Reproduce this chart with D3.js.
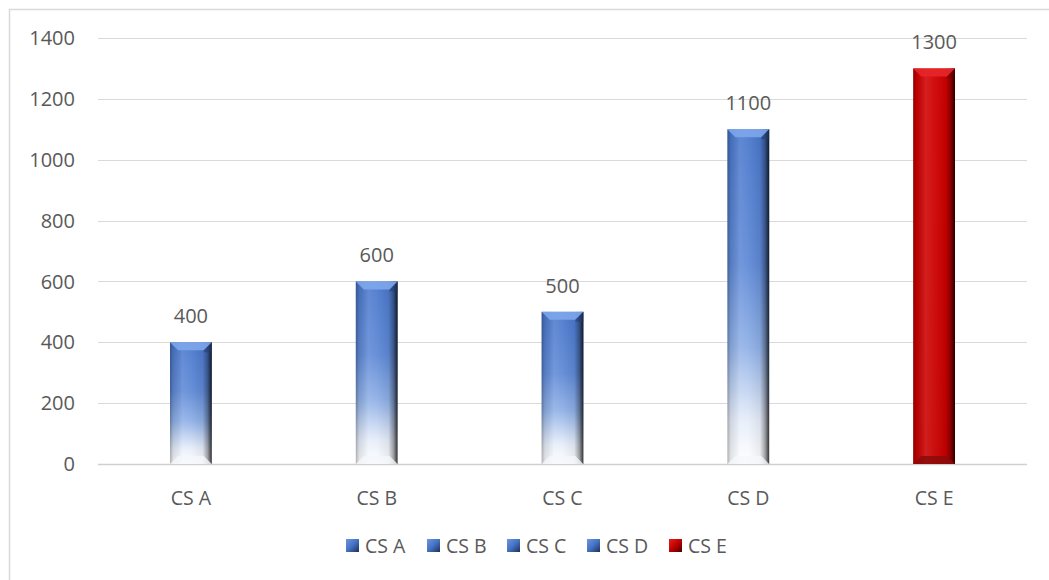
<!DOCTYPE html>
<html><head><meta charset="utf-8">
<script src="https://cdn.jsdelivr.net/npm/d3@7"></script>
<style>body{margin:0;background:#fff}svg{display:block}text{font-family:"Open Sans","Noto Sans",sans-serif;fill:#595959}</style>
</head><body><svg id="c" width="1049" height="580"></svg>
<script>
const categories = ["CS A","CS B","CS C","CS D","CS E"];
const values = [400,600,500,1100,1300];
const yTicks = [0,200,400,600,800,1000,1200,1400];
const seriesColors = ["blue","blue","blue","blue","red"];

const svg = d3.select("#c");
const W = 1049, H = 580;
const m = {left:98, right:22, top:38, bottom:116};
svg.append("path").attr("d",`M9.5,${H} V9.5 H${W}`).attr("fill","none").attr("stroke","#d9d9d9").attr("stroke-width",1.5);

const x = d3.scaleBand().domain(categories).range([m.left, W-m.right]).paddingInner(0.775).paddingOuter(0.3875);
const y = d3.scaleLinear().domain([0,1400]).range([H-m.bottom, m.top]);

const defs = svg.append("defs");
const gb = defs.append("linearGradient").attr("id","vblue").attr("x1",0).attr("y1",0).attr("x2",0).attr("y2",1);
[[0,"#4a78cc"],[0.4,"#5f89d6"],[0.65,"#8fb0e6"],[0.87,"#e6edf9"],[1,"#ffffff"]].forEach(s=>gb.append("stop").attr("offset",s[0]).attr("stop-color",s[1]));
const gr = defs.append("linearGradient").attr("id","vred").attr("x1",0).attr("y1",0).attr("x2",0).attr("y2",1);
[[0,"#d00000"],[1,"#c80000"]].forEach(s=>gr.append("stop").attr("offset",s[0]).attr("stop-color",s[1]));
const gh = defs.append("linearGradient").attr("id","hshade").attr("x1",0).attr("y1",0).attr("x2",1).attr("y2",0);
[[0,"#000",0.3],[0.08,"#000",0.1],[0.3,"#fff",0.12],[0.5,"#fff",0.06],[0.78,"#000",0.06],[0.9,"#000",0.35],[1,"#000",0.8]].forEach(s=>gh.append("stop").attr("offset",s[0]).attr("stop-color",s[1]).attr("stop-opacity",s[2]));
const lb = defs.append("linearGradient").attr("id","lblue").attr("x1",0).attr("y1",0).attr("x2",1).attr("y2",1);
[[0,"#6d95dc"],[0.5,"#4472c4"],[1,"#1f2f55"]].forEach(s=>lb.append("stop").attr("offset",s[0]).attr("stop-color",s[1]));
const lr = defs.append("linearGradient").attr("id","lred").attr("x1",0).attr("y1",0).attr("x2",1).attr("y2",1);
[[0,"#e52020"],[0.5,"#c00000"],[1,"#4a0000"]].forEach(s=>lr.append("stop").attr("offset",s[0]).attr("stop-color",s[1]));

svg.append("g").selectAll("line").data(yTicks).join("line")
  .attr("x1",m.left).attr("x2",W-m.right).attr("y1",d=>Math.round(y(d))+0.5).attr("y2",d=>Math.round(y(d))+0.5)
  .attr("stroke",d=>d===0?"#d0d0d0":"#d9d9d9").attr("stroke-width",d=>d===0?1.5:1);

svg.append("g").selectAll("text").data(yTicks).join("text")
  .attr("x",75).attr("y",d=>y(d)).attr("dy","0.36em").attr("text-anchor","end").attr("font-size",20).text(d=>d);

const data = categories.map((c,i)=>({c,v:values[i],col:seriesColors[i]}));
const bars = svg.append("g").selectAll("g").data(data).join("g");
bars.append("rect").attr("x",d=>x(d.c)).attr("width",x.bandwidth()).attr("y",d=>y(d.v)).attr("height",d=>y(0)-y(d.v))
  .attr("fill",d=>d.col==="red"?"url(#vred)":"url(#vblue)");
bars.append("rect").attr("x",d=>x(d.c)).attr("width",x.bandwidth()).attr("y",d=>y(d.v)).attr("height",d=>y(0)-y(d.v))
  .attr("fill","url(#hshade)");
const bev = 8;
bars.append("path").attr("d",d=>{const x0=x(d.c),x1=x0+x.bandwidth(),t=y(d.v);
  return `M${x0},${t}H${x1}L${x1-bev},${t+bev}H${x0+bev}Z`;})
  .attr("fill",d=>d.col==="red"?"#e8262a":"#7ea6ec").attr("opacity",0.9);
bars.append("path").attr("d",d=>{const x0=x(d.c),x1=x0+x.bandwidth(),t=y(d.v);
  return `M${x1},${t}L${x1-bev},${t+bev}V${t+bev+2}L${x1},${t+bev+2}Z`;})
  .attr("fill",d=>d.col==="red"?"#600000":"#243a6a").attr("opacity",0.5);
bars.append("path").attr("d",d=>{const x0=x(d.c),x1=x0+x.bandwidth(),b=y(0);
  return `M${x0},${b}H${x1}L${x1-bev},${b-bev}H${x0+bev}Z`;})
  .attr("fill",d=>d.col==="red"?"#8a0a0a":"#f4f6fb").attr("opacity",d=>d.col==="red"?0.85:0.8);

svg.append("g").selectAll("text").data(data).join("text")
  .attr("x",d=>x(d.c)+x.bandwidth()/2).attr("y",d=>y(d.v)-19).attr("text-anchor","middle").attr("font-size",20).text(d=>d.v);

svg.append("g").selectAll("text").data(categories).join("text")
  .attr("x",d=>x(d)+x.bandwidth()/2).attr("y",498).attr("dy","0.36em").attr("text-anchor","middle").attr("font-size",19.5).text(d=>d);

const legX = [346,427,507,587,669];
const lg = svg.append("g").selectAll("g").data(data).join("g").attr("transform",(d,i)=>`translate(${legX[i]},539)`);
lg.append("rect").attr("width",13).attr("height",13).attr("fill",d=>d.col==="red"?"url(#lred)":"url(#lblue)");
lg.append("text").attr("x",19).attr("y",6.5).attr("dy","0.36em").attr("font-size",19.5).text(d=>d.c);
</script></body></html>
